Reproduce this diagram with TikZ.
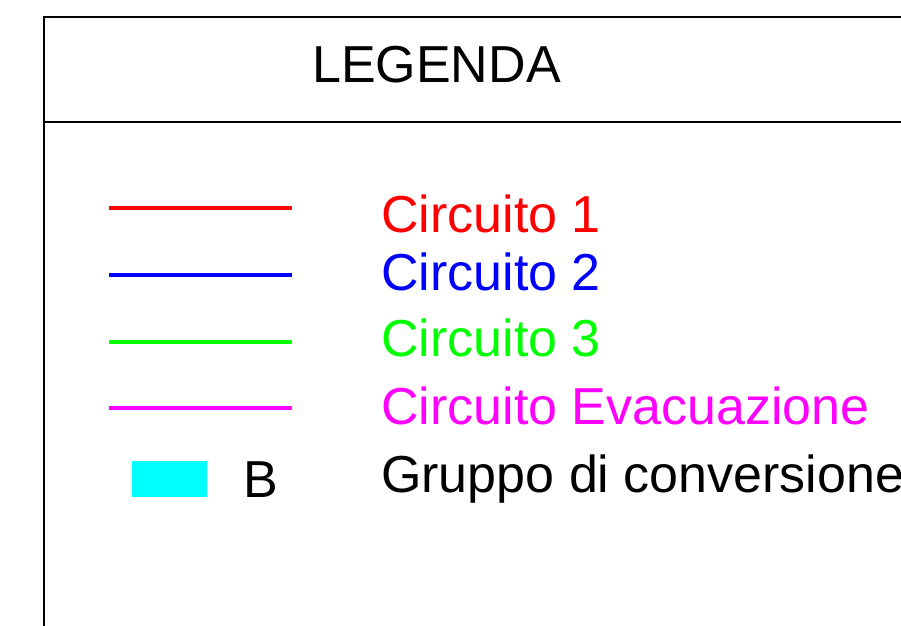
\documentclass[tikz,border=0pt]{standalone}
\usepackage{fontspec}
\setmainfont{Liberation Sans}
\definecolor{wirered}{RGB}{255,0,0}
\definecolor{wireblue}{RGB}{0,0,255}
\definecolor{wiregreen}{RGB}{0,255,0}
\definecolor{wiremagenta}{RGB}{255,0,255}
\definecolor{boxcyan}{RGB}{0,255,255}
\begin{document}
\begin{tikzpicture}
                [x=1pt, y=-1pt,
                 legtext/.style={anchor=base west, inner sep=0pt, font=\fontsize{52}{62}\selectfont},
                 wire/.style={line width=3.5pt},
                 frame/.style={draw, line width=2pt}]
                \clip (0,0) rectangle (901,625);
                % Define frame
                \draw[frame] (44,640) -- (44,17) -- (920,17);
                \draw[frame] (44,122) -- (920,122);
                % Define nodes
                \node[legtext, anchor=base] (Title) at (436.5,82) {LEGENDA};
                \coordinate (R1) at (109,208);
                \coordinate (R2) at (292,208);
                \coordinate (B1) at (109,275);
                \coordinate (B2) at (292,275);
                \coordinate (G1) at (109,342);
                \coordinate (G2) at (292,342);
                \coordinate (M1) at (109,408);
                \coordinate (M2) at (292,408);
                \node[fill=boxcyan, minimum width=75pt, minimum height=36pt, inner sep=0pt] (Box) at (169.5,479) {};
                \node[legtext] (Bname) at (243.5,497) {B};
                \node[legtext, text=wirered] (T1) at (381,232) {Circuito 1};
                \node[legtext, text=wireblue] (T2) at (381,290) {Circuito 2};
                \node[legtext, text=wiregreen] (T3) at (381,356) {Circuito 3};
                \node[legtext, text=wiremagenta] (T4) at (381,424) {Circuito Evacuazione};
                \node[legtext] (T5) at (381,492) {Gruppo di conversione};
                % Define wires
                \draw[wire, wirered] (R1) -- (R2);
                \draw[wire, wireblue] (B1) -- (B2);
                \draw[wire, wiregreen] (G1) -- (G2);
                \draw[wire, wiremagenta] (M1) -- (M2);
            \end{tikzpicture}
\end{document}
